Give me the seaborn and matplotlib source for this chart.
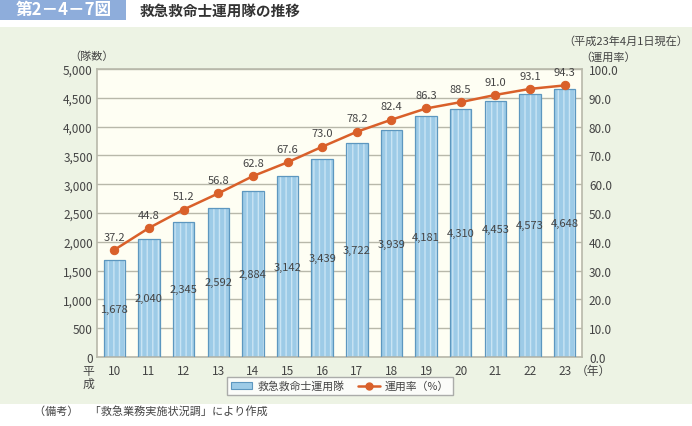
import matplotlib
matplotlib.use("Agg")
import matplotlib.pyplot as plt
from matplotlib.patches import Rectangle
from matplotlib.lines import Line2D
from matplotlib.ticker import FuncFormatter, MultipleLocator
import seaborn as sns
import numpy as np
import pandas as pd

years = ["10", "11", "12", "13", "14", "15", "16", "17", "18", "19", "20", "21", "22", "23"]
teams = [1678, 2040, 2345, 2592, 2884, 3142, 3439, 3722, 3939, 4181, 4310, 4453, 4573, 4648]
rate = [37.2, 44.8, 51.2, 56.8, 62.8, 67.6, 73.0, 78.2, 82.4, 86.3, 88.5, 91.0, 93.1, 94.3]

sns.set_theme(style="white")
plt.rcParams["font.family"] = ["Noto Sans CJK JP", "DejaVu Sans"]

text_c = "#444444"
bar_c = "#9dcbe7"
stripe_c = "#c9e4f4"
edge_c = "#5d97bf"
line_c = "#d9602a"
grid_c = "#b8b8aa"

df = pd.DataFrame({"year": years, "teams": teams, "rate": rate})

fig = plt.figure(figsize=(6.92, 4.27), dpi=100)
fig.patch.set_facecolor("white")

# green background panel
fig.add_artist(Rectangle((0, 1 - 405 / 427), 1, (405 - 28) / 427,
                         transform=fig.transFigure, facecolor="#edf3e4",
                         edgecolor="none", zorder=0))
# title block
fig.add_artist(Rectangle((0, 1 - 21 / 427), 126 / 692, 21 / 427,
                         transform=fig.transFigure, facecolor="#8eaddb",
                         edgecolor="none", zorder=1))
fig.text(16 / 692, 1 - 10.5 / 427, "第2－4－7図", color="white", fontsize=12,
         fontweight="bold", va="center", ha="left")
fig.text(140 / 692, 1 - 10.5 / 427, "救急救命士運用隊の推移", color="#333333",
         fontsize=10.5, fontweight="bold", va="center", ha="left")

ax = fig.add_axes([97 / 692, 1 - 358 / 427, (582 - 97) / 692, (358 - 70) / 427])
ax.set_facecolor("#fefef3")

sns.barplot(data=df, x="year", y="teams", ax=ax, color=bar_c, width=0.62,
            saturation=1, linewidth=0, hatch="|||", zorder=2)
for p in ax.patches:
    p.set_edgecolor(stripe_c)
# outlines
for p in list(ax.patches):
    ax.add_patch(Rectangle(p.get_xy(), p.get_width(), p.get_height(),
                           fill=False, edgecolor=edge_c, linewidth=0.9, zorder=3))

ax.bar_label(ax.containers[0], labels=[f"{v:,}" for v in teams],
             label_type="center", fontsize=8, color=text_c, zorder=4)

ax.set_ylim(0, 5000)
ax.set_xlim(-0.5, len(years) - 0.5)
ax.yaxis.set_major_locator(MultipleLocator(500))
ax.yaxis.set_major_formatter(FuncFormatter(lambda v, _: f"{int(v):,}"))
ax.grid(axis="y", color=grid_c, linewidth=1, zorder=0)
ax.set_axisbelow(True)
ax.set_xlabel("")
ax.set_ylabel("")
ax.set_xticks(range(len(years)))
ax.set_xticklabels(years)
ax.set_xticks(np.arange(0.5, len(years) - 0.5, 1), minor=True)
ax.tick_params(axis="x", which="major", length=0, labelsize=8.5, labelcolor=text_c, pad=5)
ax.tick_params(axis="x", which="minor", direction="in", length=3, color=grid_c, width=1)
ax.tick_params(axis="y", length=0, labelsize=8.5, labelcolor=text_c, pad=3)
for s in ax.spines.values():
    s.set_color(grid_c)
    s.set_linewidth(1.2)

ax2 = ax.twinx()
sns.lineplot(x=np.arange(len(years)), y=rate, ax=ax2, color=line_c, marker="o",
             markersize=6, markeredgecolor=line_c, linewidth=1.8,
             legend=False, zorder=5)
ax2.set_ylim(0, 100)
ax2.yaxis.set_major_locator(MultipleLocator(10))
ax2.yaxis.set_major_formatter(FuncFormatter(lambda v, _: f"{v:.1f}"))
ax2.tick_params(axis="y", length=0, labelsize=8.5, labelcolor=text_c, pad=5)
ax2.grid(False)
for s in ax2.spines.values():
    s.set_visible(False)
for i, r in enumerate(rate):
    ax2.annotate(f"{r:.1f}", (i, r), xytext=(0, 6), textcoords="offset points",
                 ha="center", va="bottom", fontsize=8, color=text_c)

# axis captions
fig.text(92 / 692, 1 - 57 / 427, "（隊数）", fontsize=8, color=text_c, ha="center", va="center")
fig.text(608 / 692, 1 - 58 / 427, "（運用率）", fontsize=8, color=text_c, ha="center", va="center")
fig.text(688 / 692, 1 - 42 / 427, "（平成23年4月1日現在）", fontsize=8, color=text_c,
         ha="right", va="center")
fig.text(88 / 692, 1 - 378 / 427, "平\n成", fontsize=8.5, color=text_c, ha="center",
         va="center", linespacing=1.0)
fig.text(576 / 692, 1 - 371 / 427, "（年）", fontsize=8.5, color=text_c, ha="left", va="center")
fig.text(34 / 692, 1 - 411 / 427, "（備考）　「救急業務実施状況調」により作成", fontsize=8,
         color=text_c, ha="left", va="center")

bar_handle = Rectangle((0, 0), 1, 1, facecolor=bar_c, edgecolor=edge_c, linewidth=0.8)
line_handle = Line2D([], [], color=line_c, marker="o", markersize=5, linewidth=1.8)
leg = ax.legend([bar_handle, line_handle], ["救急救命士運用隊", "運用率（%）"],
                loc="center", bbox_to_anchor=(340 / 692, 1 - 387 / 427),
                bbox_transform=fig.transFigure, ncol=2, fontsize=7.8, frameon=True,
                fancybox=False, edgecolor="#999999", handlelength=2.0,
                handletextpad=0.5, columnspacing=1.2, borderpad=0.35)
leg.get_frame().set_facecolor("white")
for t in leg.get_texts():
    t.set_color(text_c)

fig.savefig("out.png", dpi=100)
